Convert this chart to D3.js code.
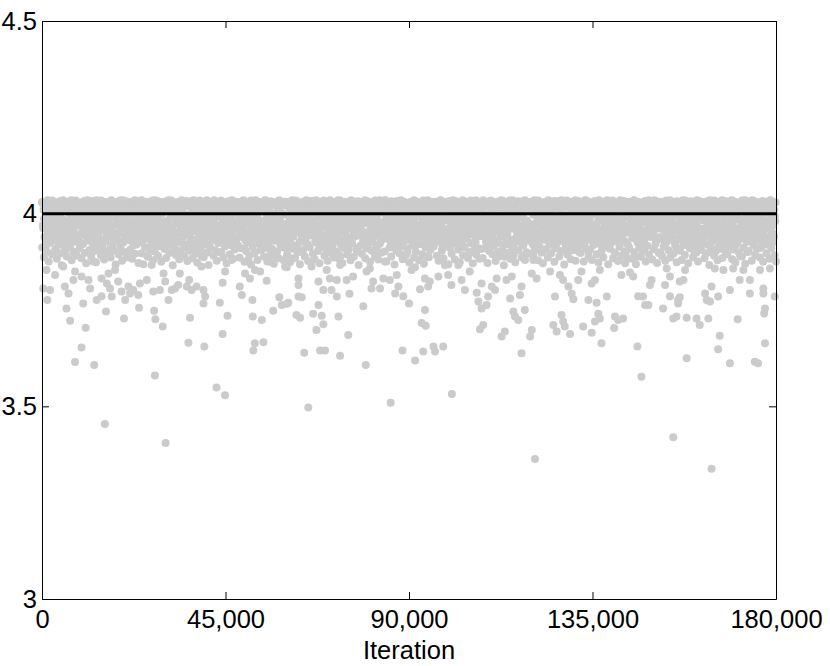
<!DOCTYPE html>
<meta charset="utf-8">
<style>

body {
  margin: 0;
  background: #fff;
}

text {
  font-family: "Liberation Sans", Arial, Helvetica, sans-serif;
  font-size: 25.5px;
  fill: #000;
}

.dot {
  fill: #cbcbcb;
}

</style>
<body>
<script src="https://d3js.org/d3.v7.min.js"></script>
<script>

var width = 830,
    height = 666,
    plotLeft = 42, plotRight = 776, plotTop = 21, plotBottom = 599;

var xTicks = [0, 45000, 90000, 135000, 180000],
    yTicks = [3, 3.5, 4, 4.5],
    xLabel = "Iteration",
    targetValue = 4,
    sampleStep = 200; // band samples are stored every 200 iterations

// dense band near the target, one value per sampled iteration (even samples)
var bandValuesA = [
  4.03,3.97,4.01,3.94,4.02,3.99,3.92,4.035,3.96,4.0,3.98,4.02,3.93,4.03,3.95,4.01,3.97,3.9,4.025,3.99,4.03,3.96,4.0,3.94,4.02,3.98,4.035,3.95,4.01,3.91,
  4.02,3.98,4.03,3.95,4.0,3.93,4.035,3.97,4.01,3.96,3.89,4.02,3.99,4.03,3.94,4.0,3.97,4.025,3.92,4.01,3.98,4.03,3.95,4.02,3.99,3.96,4.035,3.93,4.01,3.97,
  4.03,3.96,4.0,3.99,3.92,4.02,3.95,4.035,3.98,4.01,3.93,4.03,3.97,4.0,3.9,4.025,3.96,3.99,4.03,3.94,4.01,3.98,4.02,3.95,3.91,4.035,3.97,4.0,3.93,4.02,
  3.99,4.03,3.95,4.01,3.97,4.025,3.92,4.0,3.96,4.035,3.98,3.94,4.02,3.99,4.03,3.9,4.01,3.96,4.02,3.93,4.03,3.98,4.0,3.95,4.035,3.97,3.92,4.01,4.03,3.96,
  4.02,3.97,4.035,3.93,4.0,3.99,4.03,3.95,4.01,3.89,4.025,3.98,3.96,4.03,3.94,4.0,4.02,3.97,3.91,4.035,3.99,4.01,3.95,4.03,3.98,3.93,4.02,4.0,3.96,4.03,
  3.98,4.03,3.94,4.01,3.97,4.035,3.92,4.02,3.99,3.96,4.03,4.0,3.93,4.025,3.98,3.95,4.03,4.01,3.9,4.02,3.97,4.035,3.99,3.94,4.0,4.03,3.96,3.92,4.02,3.98,
  4.03,3.95,4.0,4.02,3.97,3.91,4.035,3.99,3.96,4.01,4.03,3.93,3.98,4.025,3.95,4.0,3.89,4.03,3.97,4.02,3.99,3.94,4.035,4.01,3.96,3.92,4.03,3.98,4.0,3.95,
  4.01,4.035,3.96,3.99,3.93,4.02,4.03,3.97,3.95,4.0,3.9,4.03,3.98,4.01,3.94,4.025,3.96,3.99,4.03,3.92,4.02,3.97,4.0,4.035,3.95,3.98,3.93,4.03,4.01,3.96,
  3.97,4.03,3.99,3.94,4.02,4.0,3.96,4.035,3.91,4.01,3.98,4.03,3.95,4.025,3.93,4.0,3.97,4.03,3.99,3.96,4.02,3.9,4.035,3.98,4.01,3.94,4.03,3.97,3.95,4.02,
  4.03,3.98,3.93,4.01,4.035,3.96,4.0,3.99,3.92,4.02,4.03,3.95,3.97,4.025,3.89,4.0,3.98,4.03,3.94,4.01,3.96,4.035,3.99,3.93,4.02,4.0,3.97,4.03,3.95,3.91,
  3.96,4.02,4.03,3.94,3.99,4.01,3.92,4.035,3.97,4.0,3.95,4.03,3.98,3.9,4.02,4.025,3.96,3.99,3.93,4.03,4.01,3.97,4.0,3.95,4.035,3.98,3.92,4.02,4.03,3.96,
  4.0,4.03,3.95,3.98,4.02,3.93,4.035,3.97,4.01,3.99,3.91,4.03,3.96,4.02,3.94,4.0,4.025,3.98,3.92,4.03,3.97,4.01,3.95,4.035,3.99,3.93,4.02,4.0,3.96,4.03,
  3.98,4.02,3.94,4.035,4.0,3.97,3.89,4.03,3.99,4.01,3.95,4.025,3.92,3.98,4.03,3.96,4.0,4.02,3.93,4.035,3.97,3.99,4.01,3.94,4.03,3.96,3.91,4.02,4.0,3.98,
  4.03,3.96,4.01,3.99,3.93,4.02,4.035,3.95,3.98,4.0,3.92,4.03,3.97,4.01,3.94,4.025,3.99,3.96,4.03,3.9,4.02,3.98,4.0,3.95,4.035,3.97,3.93,4.01,4.03,3.96,
  3.97,4.035,3.99,3.94,4.02,4.01,3.96,4.03,3.92,4.0,3.98,4.025,3.95,4.03,3.91,4.01,3.97,4.02,3.99,3.93,4.035,3.96,4.0,3.98,4.03,3.94,4.02,3.97,3.9,4.01,
  4.02,3.98,4.03,3.93,4.0,3.96,4.035,3.99,4.01,3.95,3.92,4.03,3.97,4.02,3.94,4.0,4.025,3.98,3.96,4.03,3.89,4.01,3.99,4.035,3.95,3.97,4.02,3.93,4.0,4.03,
  3.99,4.03,3.95,4.01,3.97,4.025,3.93,4.0,3.96,4.035,3.98,3.91,4.02,3.99,4.03,3.94,4.01,3.96,4.02,3.92,4.03,3.98,4.0,3.95,4.035,3.97,3.93,4.01,4.03,3.99,
  4.03,3.95,4.01,4.02,3.97,3.92,4.035,3.99,3.96,4.0,4.03,3.94,3.98,4.025,3.95,4.01,3.9,4.03,3.97,4.02,3.99,3.93,4.035,4.0,3.96,3.91,4.03,3.98,4.01,3.95,
  4.01,4.035,3.97,3.99,3.94,4.02,4.03,3.96,3.95,4.0,3.92,4.03,3.98,4.01,3.93,4.025,3.97,3.99,4.03,3.9,4.02,3.96,4.0,4.035,3.94,3.98,3.92,4.03,4.01,3.97,
  3.96,4.03,3.99,3.93,4.02,4.0,3.97,4.035,3.91,4.01,3.98,4.03,3.94,4.025,3.95,4.0,3.96,4.03,3.99,3.92,4.02,3.89,4.035,3.98,4.01,3.95,4.03,3.97,3.93,4.02,
  4.03,3.97,3.92,4.01,4.035,3.95,4.0,3.98,3.93,4.02,4.03,3.96,3.99,4.025,3.9,4.0,3.97,4.03,3.94,4.01,3.95,4.035,3.98,3.92,4.02,4.0,3.96,4.03,3.94,3.91,
  3.98,4.02,4.03,3.95,3.99,4.01,3.93,4.035,3.96,4.0,3.94,4.03,3.97,3.91,4.02,4.025,3.95,3.98,3.92,4.03,4.01,3.96,4.0,3.94,4.035,3.99,3.93,4.02,4.03,3.97,
  4.0,4.03,3.96,3.97,4.02,3.92,4.035,3.98,4.01,3.99,3.9,4.03,3.95,4.02,3.93,4.0,4.025,3.97,3.94,4.03,3.96,4.01,3.98,4.035,3.99,3.92,4.02,4.0,3.95,4.03,
  3.97,4.02,3.93,4.035,4.0,3.98,3.91,4.03,3.96,4.01,3.94,4.025,3.99,3.97,4.03,3.95,4.0,4.02,3.92,4.035,3.98,3.96,4.01,3.93,4.03,3.99,3.9,4.02,4.0,3.97,
  4.03,3.95,4.01,3.98,3.94,4.02,4.035,3.96,3.99,4.0,3.93,4.03,3.97,4.01,3.92,4.025,3.98,3.95,4.03,3.91,4.02,3.99,4.0,3.96,4.035,3.97,3.94,4.01,4.03,3.95,
  3.98,4.035,3.96,3.93,4.02,4.01,3.97,4.03,3.9,4.0,3.99,4.025,3.94,4.03,3.92,4.01,3.96,4.02,3.98,3.95,4.035,3.97,4.0,3.99,4.03,3.93,4.02,3.96,3.91,4.01,
  4.02,3.97,4.03,3.94,4.0,3.95,4.035,3.98,4.01,3.96,3.93,4.03,3.99,4.02,3.92,4.0,4.025,3.97,3.95,4.03,3.9,4.01,3.98,4.035,3.94,3.96,4.02,3.92,4.0,4.03,
  3.96,4.03,3.94,4.01,3.98,4.025,3.92,4.0,3.97,4.035,3.99,3.9,4.02,3.96,4.03,3.93,4.01,3.95,4.02,3.91,4.03,3.97,4.0,3.94,4.035,3.98,3.92,4.01,4.03,3.96,
  4.03,3.96,4.01,4.02,3.98,3.93,4.035,3.97,3.95,4.0,4.03,3.92,3.99,4.025,3.94,4.01,3.89,4.03,3.98,4.02,3.96,3.95,4.035,4.0,3.97,3.9,4.03,3.99,4.01,3.94,
  4.01,4.035,3.98,3.97,3.93,4.02,4.03,3.95,3.96,4.0,3.91,4.03,3.99,4.01,3.94,4.025,3.98,3.96,4.03,3.92,4.02,3.97,4.0,4.035,3.93,3.99,3.95,4.03,4.01,3.98
];

// odd samples (half a step later)
var bandValuesB = [
  4.028,3.962,3.987,4.013,3.941,4.031,3.974,3.952,4.006,4.022,3.933,3.991,4.034,3.968,3.947,4.017,3.981,4.027,3.958,3.936,4.009,3.995,4.033,3.971,3.944,4.019,3.984,3.927,4.025,3.963,
  3.949,4.021,3.976,4.032,3.958,3.991,4.011,3.938,4.026,3.967,3.982,4.034,3.945,4.004,3.973,3.929,4.018,3.987,4.029,3.954,3.965,4.033,3.997,3.942,4.014,3.979,4.024,3.951,3.989,4.031,
  4.016,3.955,4.033,3.978,3.939,4.007,3.992,4.027,3.961,3.946,4.021,3.983,4.034,3.969,3.931,3.998,4.012,3.957,4.029,3.974,3.943,4.023,3.988,4.031,3.952,3.966,4.009,3.936,3.993,4.026,
  3.972,4.029,3.948,4.014,3.985,4.034,3.959,3.926,4.003,3.977,4.024,3.941,3.996,4.032,3.964,3.953,4.019,3.981,4.027,3.935,3.971,4.008,4.033,3.956,3.989,4.016,3.944,4.028,3.967,3.99,
  4.033,3.981,3.957,4.022,3.943,4.005,3.973,4.031,3.937,3.994,4.018,3.962,4.027,3.95,3.985,4.034,3.929,4.011,3.969,4.024,3.955,3.99,4.032,3.946,4.002,3.978,4.026,3.96,3.938,4.017,
  3.958,4.012,4.032,3.971,3.94,4.025,3.986,3.953,4.034,3.966,4.007,3.934,3.997,4.028,3.975,3.948,4.019,3.989,4.031,3.961,3.925,4.014,3.98,4.027,3.944,3.968,4.033,3.991,3.951,4.022,
  4.024,3.947,3.983,4.033,3.965,4.009,3.932,3.976,4.029,3.954,4.015,3.992,3.941,4.034,3.97,4.002,3.958,4.026,3.986,3.937,4.02,3.963,4.031,3.95,3.995,4.011,3.975,4.028,3.943,3.984,
  3.979,4.031,3.952,4.004,4.027,3.938,3.967,4.021,3.993,4.034,3.956,3.928,4.016,3.982,4.029,3.945,3.973,4.008,4.032,3.96,3.988,4.023,3.94,3.999,4.033,3.964,3.935,4.013,3.977,4.026,
  4.03,3.963,4.01,3.944,3.987,4.025,3.958,4.033,3.976,3.931,4.017,3.996,4.028,3.949,3.97,4.006,4.034,3.955,3.984,4.021,3.939,4.012,3.966,4.031,3.99,3.947,4.024,3.978,3.933,4.015,
  3.953,4.019,3.981,4.034,3.942,3.997,4.026,3.968,4.011,3.936,4.032,3.975,3.957,4.023,3.989,3.93,4.028,3.962,4.004,4.033,3.946,3.983,4.017,3.971,3.94,4.029,3.998,3.959,4.031,3.974,
  4.027,3.96,3.993,4.015,3.937,4.032,3.979,3.948,4.021,3.967,4.003,4.034,3.952,3.986,4.013,3.926,4.029,3.974,3.945,4.024,3.991,4.031,3.963,3.935,4.008,3.982,4.026,3.954,3.969,4.033,
  3.985,4.033,3.949,4.008,3.973,4.028,3.94,3.961,4.019,3.995,4.031,3.957,3.932,4.022,3.978,4.034,3.966,3.943,4.012,3.988,4.027,3.951,3.999,4.03,3.937,3.976,4.016,3.963,4.025,3.992,
  4.012,3.947,4.029,3.983,3.958,4.034,3.97,3.929,4.006,4.024,3.954,3.99,4.031,3.941,3.977,4.017,3.962,4.028,3.934,3.998,4.033,3.968,3.95,4.021,3.986,4.01,3.944,4.032,3.973,3.956,
  3.966,4.025,3.991,3.938,4.031,3.976,4.014,3.952,4.033,3.981,3.944,4.02,3.997,4.029,3.959,3.927,4.009,3.971,4.034,3.948,3.987,4.023,3.963,4.002,4.03,3.939,3.978,4.016,3.955,4.027,
  4.034,3.975,3.942,4.018,3.989,4.027,3.957,3.994,4.032,3.936,3.969,4.011,4.026,3.95,3.984,4.033,3.961,3.93,4.005,3.979,4.022,3.945,3.996,4.031,3.967,3.953,4.015,3.988,4.028,3.94,
  3.961,4.009,4.03,3.946,3.98,4.022,3.934,4.033,3.972,3.955,4.017,3.993,4.028,3.964,3.941,4.004,3.985,4.034,3.951,3.976,4.025,3.928,4.012,3.99,4.031,3.959,3.947,4.02,3.982,4.029,
  4.023,3.954,3.987,4.031,3.969,3.937,4.013,3.998,4.034,3.948,3.977,4.026,3.96,4.007,3.943,4.029,3.983,3.952,4.018,4.033,3.965,3.931,3.994,4.024,3.974,4.011,3.939,4.032,3.962,3.991,
  3.977,4.028,3.943,3.996,4.033,3.964,4.016,3.95,3.985,4.03,3.935,3.972,4.021,4.003,3.958,4.034,3.947,3.988,4.014,3.967,4.027,3.926,3.98,4.032,3.955,4.008,3.993,3.942,4.025,3.97,
  4.006,3.968,4.032,3.953,3.99,4.019,3.936,4.028,3.979,3.96,4.034,3.994,3.944,4.012,3.984,4.026,3.957,3.929,4.031,3.973,4.001,3.949,4.023,3.987,3.963,4.033,3.94,3.976,4.017,3.999,
  3.945,4.018,3.98,4.034,3.961,4.024,3.992,3.932,4.01,3.971,4.029,3.956,3.986,4.032,3.939,4.005,3.969,4.027,3.95,3.995,4.033,3.964,3.937,4.015,3.982,4.03,3.953,3.975,4.021,3.934,
  4.031,3.959,3.997,4.013,3.941,4.027,3.974,3.951,4.034,3.988,4.006,3.933,3.966,4.022,3.983,4.029,3.947,3.991,4.016,3.962,4.032,3.938,3.978,4.024,3.955,4.009,3.994,3.927,4.033,3.97,
  3.988,4.026,3.952,3.971,4.033,3.944,4.011,3.984,4.029,3.957,3.93,4.02,3.996,4.034,3.965,3.948,4.015,3.979,4.027,3.936,3.99,4.031,3.961,4.003,3.975,4.024,3.942,3.986,4.032,3.958,
  4.015,3.946,4.03,3.979,3.937,4.021,3.993,4.034,3.962,3.95,4.008,3.985,4.028,3.969,3.94,4.017,3.998,4.033,3.954,3.973,4.025,3.931,3.982,4.012,4.031,3.959,3.944,4.004,3.988,4.027,
  3.963,4.032,3.987,3.943,4.019,3.976,4.028,3.955,3.999,4.034,3.934,3.97,4.023,3.992,3.947,4.011,4.03,3.96,3.983,4.026,3.938,4.006,3.972,4.033,3.951,3.928,4.016,3.994,4.029,3.967,
  4.029,3.972,3.952,4.01,3.989,4.034,3.94,3.965,4.025,3.981,4.031,3.946,3.996,4.018,3.958,3.935,4.027,3.977,4.002,4.033,3.953,3.986,4.021,3.944,3.969,4.03,3.99,3.961,4.013,3.939,
  3.956,4.014,4.033,3.968,3.993,4.025,3.939,3.978,4.031,3.96,4.007,3.985,3.932,4.028,3.974,4.034,3.949,3.99,4.019,3.966,3.942,4.03,3.981,4.011,3.957,4.026,3.997,3.93,4.032,3.971,
  4.022,3.95,3.982,4.031,3.963,3.936,4.016,3.991,4.034,3.955,3.979,4.027,3.944,4.004,3.97,4.032,3.958,3.987,4.013,3.929,4.029,3.975,3.948,4.024,3.995,4.033,3.962,3.94,4.009,3.984,
  3.983,4.03,3.945,3.998,4.021,3.967,4.033,3.953,3.988,4.012,3.937,4.028,3.976,3.959,4.034,3.992,3.943,4.017,3.972,4.026,3.951,3.98,4.031,3.934,4.005,3.965,4.023,3.996,3.948,4.032,
  4.009,3.966,4.027,3.991,3.947,4.033,3.975,3.931,4.018,3.984,4.03,3.956,3.999,4.024,3.962,3.941,4.014,3.978,4.034,3.952,3.986,4.021,3.938,4.003,3.969,4.029,3.957,3.993,4.032,3.974,
  3.948,4.024,3.979,4.032,3.958,4.006,3.99,3.935,4.028,3.971,3.954,4.015,3.996,4.033,3.943,3.982,4.02,3.963,4.031,3.929,3.975,4.011,3.986,4.034,3.95,3.968,4.026,3.94,3.994,4.029
];

// lower edge of the band, one value every 400 iterations
var bandValuesC = [
  3.912,3.887,3.934,3.901,3.876,3.925,3.895,3.941,3.908,3.883,3.919,3.897,3.866,3.929,3.905,3.889,3.936,3.914,3.879,3.902,3.927,3.893,3.946,3.911,3.884,3.921,3.898,3.871,3.932,3.906,
  3.889,3.923,3.903,3.874,3.937,3.909,3.892,3.915,3.881,3.928,3.899,3.944,3.886,3.917,3.904,3.868,3.931,3.894,3.912,3.878,3.926,3.9,3.887,3.939,3.907,3.883,3.918,3.896,3.924,3.872,
  3.926,3.897,3.869,3.913,3.935,3.888,3.906,3.921,3.879,3.902,3.943,3.891,3.916,3.875,3.929,3.908,3.885,3.919,3.898,3.934,3.866,3.911,3.893,3.927,3.882,3.905,3.938,3.89,3.914,3.877,
  3.904,3.931,3.884,3.917,3.896,3.873,3.928,3.909,3.945,3.887,3.92,3.899,3.867,3.912,3.936,3.891,3.905,3.878,3.924,3.9,3.94,3.886,3.915,3.871,3.93,3.895,3.918,3.883,3.907,3.933,
  3.918,3.886,3.91,3.939,3.875,3.903,3.925,3.892,3.868,3.914,3.897,3.933,3.88,3.922,3.906,3.947,3.889,3.911,3.876,3.927,3.894,3.908,3.87,3.936,3.901,3.884,3.919,3.913,3.879,3.93,
  3.893,3.927,3.874,3.909,3.941,3.885,3.916,3.9,3.869,3.932,3.906,3.889,3.921,3.877,3.913,3.944,3.896,3.882,3.925,3.903,3.871,3.919,3.937,3.891,3.908,3.878,3.928,3.898,3.915,3.886,
  3.929,3.901,3.883,3.92,3.872,3.911,3.935,3.894,3.907,3.879,3.924,3.888,3.942,3.902,3.867,3.917,3.896,3.931,3.884,3.91,3.926,3.875,3.904,3.938,3.89,3.914,3.881,3.922,3.899,3.946,
  3.902,3.876,3.934,3.912,3.889,3.923,3.868,3.905,3.94,3.897,3.915,3.882,3.928,3.893,3.909,3.873,3.936,3.918,3.886,3.901,3.943,3.879,3.921,3.895,3.87,3.913,3.932,3.887,3.906,3.925,
  3.915,3.939,3.891,3.878,3.926,3.904,3.884,3.918,3.933,3.869,3.911,3.896,3.945,3.881,3.922,3.907,3.874,3.929,3.892,3.913,3.937,3.885,3.9,3.924,3.871,3.916,3.894,3.941,3.883,3.908,
  3.885,3.91,3.928,3.872,3.903,3.937,3.895,3.916,3.877,3.924,3.889,3.943,3.906,3.866,3.92,3.898,3.931,3.883,3.912,3.893,3.874,3.927,3.905,3.939,3.887,3.918,3.88,3.9,3.934,3.896,
  3.927,3.892,3.906,3.944,3.879,3.914,3.899,3.871,3.932,3.908,3.886,3.921,3.897,3.935,3.875,3.91,3.926,3.889,3.903,3.94,3.868,3.917,3.894,3.929,3.882,3.905,3.938,3.878,3.913,3.901,
  3.898,3.923,3.876,3.911,3.934,3.89,3.907,3.88,3.919,3.942,3.895,3.873,3.928,3.904,3.887,3.916,3.936,3.869,3.909,3.925,3.884,3.899,3.931,3.877,3.914,3.891,3.946,3.902,3.883,3.92,
  3.911,3.883,3.937,3.9,3.869,3.925,3.913,3.888,3.903,3.93,3.876,3.917,3.894,3.94,3.881,3.908,3.922,3.872,3.898,3.935,3.89,3.915,3.878,3.927,3.905,3.886,3.943,3.896,3.919,3.874,
  3.935,3.904,3.88,3.918,3.893,3.929,3.871,3.91,3.941,3.887,3.914,3.899,3.876,3.923,3.906,3.933,3.884,3.897,3.92,3.867,3.912,3.938,3.891,3.903,3.879,3.926,3.909,3.885,3.931,3.9,
  3.895,3.916,3.938,3.882,3.907,3.873,3.924,3.9,3.934,3.889,3.912,3.87,3.927,3.903,3.942,3.878,3.919,3.893,3.908,3.931,3.886,3.914,3.875,3.921,3.897,3.939,3.883,3.91,3.926,3.892
];

// sparse points below the band: [iteration, value]
var outliers = [
  [300,3.806],[1300,3.776],[2000,3.802],[1100,3.854],[3200,3.841],[5200,3.863],[5600,3.811],[6500,3.793],
  [7700,3.828],[8100,3.850],[9700,3.837],[10100,3.767],[11400,3.828],[11800,3.806],[12600,3.876],[13400,3.776],
  [14600,3.786],[14600,3.832],[15900,3.819],[16300,3.845],[16700,3.806],[17100,3.785],[17900,3.854],[18700,3.824],
  [19500,3.798],[20400,3.776],[21200,3.811],[21600,3.793],[22400,3.802],[23600,3.789],[24000,3.819],[25700,3.828],
  [26900,3.867],[27300,3.798],[28900,3.802],[29800,3.845],[30200,3.824],[31000,3.776],[31800,3.802],[32600,3.806],
  [33400,3.815],[33800,3.845],[35500,3.811],[36100,3.828],[36700,3.802],[37900,3.811],[39600,3.802],[40000,3.785],
  [39600,3.767],[39100,3.863],[43600,3.769],[44300,3.821],[44900,3.850],[46500,3.880],[48500,3.811],[49000,3.789],
  [49800,3.845],[50600,3.880],[51000,3.832],[51600,3.776],[52200,3.854],[53500,3.850],[55100,3.826],[55900,3.876],
  [58200,3.783],[59600,3.863],[60000,3.766],[60400,3.888],
  [6000,3.754],[6900,3.722],[8100,3.615],[9700,3.653],[10700,3.704],[12800,3.607],[15700,3.746],[20100,3.728],
  [23800,3.756],[27500,3.748],[27800,3.726],[29600,3.707],[35900,3.665],[36300,3.730],[39800,3.655],[44300,3.688],
  [45500,3.735],[51700,3.733],[51800,3.645],[52200,3.664],[54300,3.666],[53900,3.724],[56700,3.748],[58800,3.763],
  [15400,3.454],[30300,3.405],[27700,3.580],[42800,3.549],[44900,3.529],[65300,3.497],[85500,3.509],
  [100500,3.532],[120900,3.363],[147000,3.577],[154800,3.420],[164200,3.338],
  [60000,3.861],[62900,3.832],[62900,3.815],[60400,3.769],[62900,3.785],[63700,3.783],[62400,3.737],[63300,3.730],
  [64300,3.639],[66100,3.863],[66500,3.740],[67300,3.698],[67800,3.763],[67800,3.824],[68600,3.735],[69000,3.713],
  [68200,3.645],[69400,3.645],[69000,3.802],[69800,3.854],[70600,3.832],[71000,3.802],[72300,3.785],[72300,3.828],
  [72700,3.733],[73100,3.631],[73100,3.867],[75100,3.685],[75400,3.792],[74700,3.828],[76300,3.837],[78800,3.760],
  [79400,3.607],[79600,3.850],[80400,3.858],[80800,3.806],[81200,3.824],[82900,3.806],[83700,3.832],[84100,3.876],
  [85300,3.828],[86600,3.793],[87000,3.841],[87400,3.811],[88600,3.786],[88400,3.645],[90000,3.767],[90600,3.854],
  [91500,3.861],[91500,3.619],[92700,3.804],[93500,3.642],[93100,3.716],[93900,3.750],[94100,3.709],[93900,3.832],
  [94700,3.811],[95100,3.824],[96000,3.655],[96400,3.642],[97200,3.837],[98400,3.655],[98800,3.867],[99600,3.841],
  [100400,3.815],[102100,3.867],[102900,3.828],[103700,3.802],[104900,3.850],[106600,3.795],[107000,3.772],[107800,3.819],
  [107800,3.754],[108200,3.711],[107400,3.700],[109000,3.763],[109400,3.785],[110300,3.811],[111100,3.802],[111500,3.832],
  [112700,3.681],[113500,3.694],[113500,3.888],[113900,3.828],[114800,3.780],[115200,3.837],[115600,3.746],[116000,3.733],
  [116800,3.724],[117200,3.789],[117600,3.811],[117600,3.638],[118400,3.750],[119700,3.681],[120100,3.698],[120100,3.845],
  [120500,3.880],[121300,3.832],[124600,3.850],[125800,3.785],[125400,3.711],[126200,3.694],[127400,3.737],[127800,3.720],
  [128200,3.707],[127000,3.841],[127800,3.828],[129100,3.811],[129500,3.688],[129900,3.792],[130300,3.778],[131500,3.828],
  [132300,3.850],[132700,3.707],[134000,3.776],[134800,3.691],[134800,3.819],[135600,3.828],[136000,3.769],[136400,3.740],
  [136800,3.728],[135600,3.720],[136800,3.854],[137200,3.664],[138500,3.785],[140500,3.733],[140300,3.703],[141300,3.724],
  [142500,3.728],[142100,3.841],[143000,3.871],[144200,3.847],[145000,3.837],[145800,3.888],[146000,3.655],[146200,3.786],
  [147400,3.785],[147900,3.763],[148700,3.763],[149100,3.815],[149500,3.828],[152300,3.754],[152800,3.815],[153200,3.858],
  [154000,3.837],[154000,3.786],[156000,3.776],[156400,3.783],[156000,3.767],[154800,3.728],[155600,3.733],[156400,3.824],
  [157300,3.828],[157700,3.854],[158100,3.625],[158100,3.730],[160500,3.728],[161300,3.711],[162600,3.793],[163400,3.728],
  [163000,3.776],[163800,3.772],[164200,3.811],[165000,3.858],[165800,3.785],[166200,3.683],[165800,3.648],[167100,3.854],
  [168700,3.802],[168700,3.612],[169500,3.858],[170600,3.726],[171100,3.828],[172000,3.854],[173600,3.793],[173600,3.828],
  [174800,3.616],[175600,3.612],[176100,3.854],[176900,3.806],[176900,3.793],[177300,3.754],[177100,3.741],[177300,3.664],
  [178500,3.858],[179700,3.785],[180000,3.876]
];

var svg = d3.select("body").append("svg")
    .attr("width", width)
    .attr("height", height);

var x = d3.scaleLinear().domain([0, 180000]).range([plotLeft, plotRight]);
var y = d3.scaleLinear().domain([3, 4.5]).range([plotBottom, plotTop]);

var points = bandValuesA.map(function(v, i) { return [i * sampleStep, v]; })
    .concat(bandValuesB.map(function(v, i) { return [i * sampleStep + sampleStep / 2, v]; }))
    .concat(bandValuesC.map(function(v, i) { return [i * sampleStep * 2 + 50, v]; }))
    .concat(outliers);

svg.append("g").selectAll("circle")
    .data(points)
  .enter().append("circle")
    .attr("class", "dot")
    .attr("cx", function(d) { return x(d[0]); })
    .attr("cy", function(d) { return y(d[1]); })
    .attr("r", 4);

svg.append("line")
    .attr("x1", x(0))
    .attr("x2", x(180000))
    .attr("y1", y(targetValue))
    .attr("y2", y(targetValue))
    .attr("stroke", "#000")
    .attr("stroke-width", 3);

// axes with inward ticks, box on all four sides
svg.append("g")
    .attr("transform", "translate(0," + plotBottom + ")")
    .call(d3.axisBottom(x).tickValues(xTicks).tickFormat(d3.format(","))
      .tickSizeInner(-7).tickSizeOuter(0).tickPadding(11));

svg.append("g")
    .attr("transform", "translate(" + plotLeft + ",0)")
    .call(d3.axisLeft(y).tickValues(yTicks).tickFormat(function(d) { return d; })
      .tickSizeInner(-7).tickSizeOuter(0).tickPadding(5));

svg.append("g")
    .attr("transform", "translate(0," + plotTop + ")")
    .call(d3.axisTop(x).tickValues(xTicks).tickFormat("")
      .tickSizeInner(-7).tickSizeOuter(0));

svg.append("g")
    .attr("transform", "translate(" + plotRight + ",0)")
    .call(d3.axisRight(y).tickValues(yTicks).tickFormat("")
      .tickSizeInner(-7).tickSizeOuter(0));

svg.selectAll("g").attr("font-size", null).attr("font-family", null);
svg.selectAll(".domain, .tick line").attr("stroke", "#000");

svg.append("text")
    .attr("x", (plotLeft + plotRight) / 2)
    .attr("y", 659)
    .attr("text-anchor", "middle")
    .text(xLabel);

</script>
